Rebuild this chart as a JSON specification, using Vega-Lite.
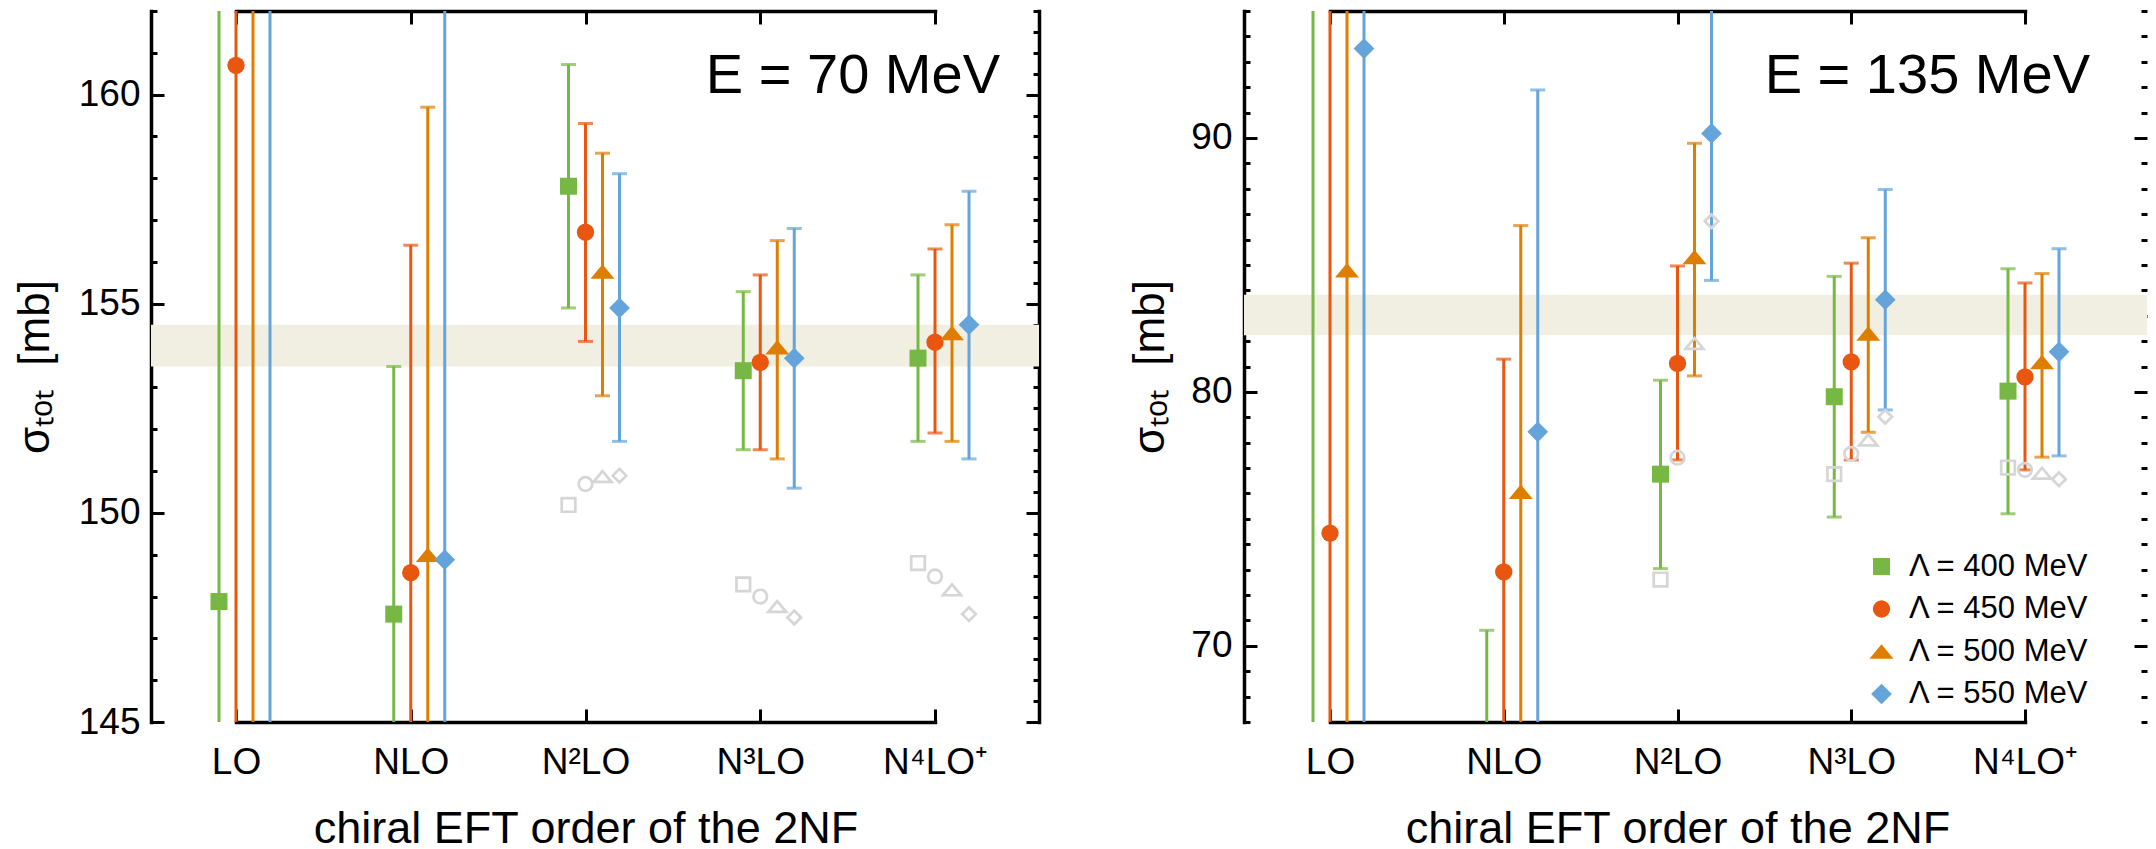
{
  "$schema": "https://vega.github.io/schema/vega-lite/v6.json",
  "background": "white",
  "padding": {"left": 13, "top": 9, "right": 0, "bottom": 0},
  "autosize": {"type": "pad"},
  "config": {
    "view": {"stroke": null},
    "font": "Liberation Sans",
    "axis": {
      "grid": false, "domainColor": "black", "domainWidth": 3.5, "domainCap": "square",
      "tickColor": "black", "tickWidth": 3, "labelColor": "black", "titleColor": "black",
      "labelFont": "Liberation Sans", "titleFont": "Liberation Sans", "labelFontSize": 37,
      "titleFontWeight": "normal", "labelOverlap": false, "labelBound": false, "labelFlush": false
    },
    "legend": {"symbolOpacity": 1},
    "title": {"anchor": "end", "frame": "group", "fontSize": 56, "fontWeight": "normal", "font": "Liberation Sans", "color": "black", "offset": -95, "baseline": "alphabetic"}
  },
  "datasets": {
    "e70": [
      {"order": "LO", "lambda": "Λ = 400 MeV", "cutoff": 400, "sigma": 147.88, "low": 120, "high": 190},
      {"order": "LO", "lambda": "Λ = 450 MeV", "cutoff": 450, "sigma": 160.70, "low": 120, "high": 190},
      {"order": "LO", "lambda": "Λ = 500 MeV", "cutoff": 500, "sigma": 170.0, "low": 120, "high": 190},
      {"order": "LO", "lambda": "Λ = 550 MeV", "cutoff": 550, "sigma": 172.0, "low": 120, "high": 190},
      {"order": "NLO", "lambda": "Λ = 400 MeV", "cutoff": 400, "sigma": 147.58, "low": 141.66, "high": 153.5},
      {"order": "NLO", "lambda": "Λ = 450 MeV", "cutoff": 450, "sigma": 148.57, "low": 140.74, "high": 156.4},
      {"order": "NLO", "lambda": "Λ = 500 MeV", "cutoff": 500, "sigma": 149.0, "low": 138.3, "high": 159.7},
      {"order": "NLO", "lambda": "Λ = 550 MeV", "cutoff": 550, "sigma": 148.88, "low": 134, "high": 164},
      {"order": "N²LO", "lambda": "Λ = 400 MeV", "cutoff": 400, "sigma": 157.81, "low": 154.90, "high": 160.72},
      {"order": "N²LO", "lambda": "Λ = 450 MeV", "cutoff": 450, "sigma": 156.71, "low": 154.10, "high": 159.31},
      {"order": "N²LO", "lambda": "Λ = 500 MeV", "cutoff": 500, "sigma": 155.77, "low": 152.8, "high": 158.6},
      {"order": "N²LO", "lambda": "Λ = 550 MeV", "cutoff": 550, "sigma": 154.90, "low": 151.71, "high": 158.11},
      {"order": "N³LO", "lambda": "Λ = 400 MeV", "cutoff": 400, "sigma": 153.40, "low": 151.51, "high": 155.29},
      {"order": "N³LO", "lambda": "Λ = 450 MeV", "cutoff": 450, "sigma": 153.60, "low": 151.51, "high": 155.69},
      {"order": "N³LO", "lambda": "Λ = 500 MeV", "cutoff": 500, "sigma": 153.96, "low": 151.29, "high": 156.51},
      {"order": "N³LO", "lambda": "Λ = 550 MeV", "cutoff": 550, "sigma": 153.70, "low": 150.59, "high": 156.80},
      {"order": "N⁴LO⁺", "lambda": "Λ = 400 MeV", "cutoff": 400, "sigma": 153.70, "low": 151.71, "high": 155.69},
      {"order": "N⁴LO⁺", "lambda": "Λ = 450 MeV", "cutoff": 450, "sigma": 154.08, "low": 151.91, "high": 156.31},
      {"order": "N⁴LO⁺", "lambda": "Λ = 500 MeV", "cutoff": 500, "sigma": 154.30, "low": 151.71, "high": 156.89},
      {"order": "N⁴LO⁺", "lambda": "Λ = 550 MeV", "cutoff": 550, "sigma": 154.50, "low": 151.29, "high": 157.69}
    ],
    "g70": [
      {"order": "N²LO", "lambda": "Λ = 400 MeV", "cutoff": 400, "sigma": 150.19},
      {"order": "N²LO", "lambda": "Λ = 450 MeV", "cutoff": 450, "sigma": 150.69},
      {"order": "N²LO", "lambda": "Λ = 500 MeV", "cutoff": 500, "sigma": 150.87},
      {"order": "N²LO", "lambda": "Λ = 550 MeV", "cutoff": 550, "sigma": 150.89},
      {"order": "N³LO", "lambda": "Λ = 400 MeV", "cutoff": 400, "sigma": 148.29},
      {"order": "N³LO", "lambda": "Λ = 450 MeV", "cutoff": 450, "sigma": 148.00},
      {"order": "N³LO", "lambda": "Λ = 500 MeV", "cutoff": 500, "sigma": 147.76},
      {"order": "N³LO", "lambda": "Λ = 550 MeV", "cutoff": 550, "sigma": 147.50},
      {"order": "N⁴LO⁺", "lambda": "Λ = 400 MeV", "cutoff": 400, "sigma": 148.80},
      {"order": "N⁴LO⁺", "lambda": "Λ = 450 MeV", "cutoff": 450, "sigma": 148.48},
      {"order": "N⁴LO⁺", "lambda": "Λ = 500 MeV", "cutoff": 500, "sigma": 148.16},
      {"order": "N⁴LO⁺", "lambda": "Λ = 550 MeV", "cutoff": 550, "sigma": 147.58}
    ],
    "band70": [{"low": 153.5, "high": 154.5}],
    "e135": [
      {"order": "LO", "lambda": "Λ = 400 MeV", "cutoff": 400, "sigma": 60.0, "low": 40, "high": 120},
      {"order": "LO", "lambda": "Λ = 450 MeV", "cutoff": 450, "sigma": 74.44, "low": 40, "high": 120},
      {"order": "LO", "lambda": "Λ = 500 MeV", "cutoff": 500, "sigma": 84.79, "low": 40, "high": 120},
      {"order": "LO", "lambda": "Λ = 550 MeV", "cutoff": 550, "sigma": 93.52, "low": 40, "high": 120},
      {"order": "NLO", "lambda": "Λ = 400 MeV", "cutoff": 400, "sigma": 64.0, "low": 57, "high": 70.61},
      {"order": "NLO", "lambda": "Λ = 450 MeV", "cutoff": 450, "sigma": 72.91, "low": 64.5, "high": 81.29},
      {"order": "NLO", "lambda": "Λ = 500 MeV", "cutoff": 500, "sigma": 76.07, "low": 65.6, "high": 86.55},
      {"order": "NLO", "lambda": "Λ = 550 MeV", "cutoff": 550, "sigma": 78.43, "low": 65, "high": 91.89},
      {"order": "N²LO", "lambda": "Λ = 400 MeV", "cutoff": 400, "sigma": 76.76, "low": 73.04, "high": 80.46},
      {"order": "N²LO", "lambda": "Λ = 450 MeV", "cutoff": 450, "sigma": 81.12, "low": 77.32, "high": 84.96},
      {"order": "N²LO", "lambda": "Λ = 500 MeV", "cutoff": 500, "sigma": 85.31, "low": 80.63, "high": 89.79},
      {"order": "N²LO", "lambda": "Λ = 550 MeV", "cutoff": 550, "sigma": 90.18, "low": 84.39, "high": 96.0},
      {"order": "N³LO", "lambda": "Λ = 400 MeV", "cutoff": 400, "sigma": 79.81, "low": 75.07, "high": 84.55},
      {"order": "N³LO", "lambda": "Λ = 450 MeV", "cutoff": 450, "sigma": 81.18, "low": 77.32, "high": 85.07},
      {"order": "N³LO", "lambda": "Λ = 500 MeV", "cutoff": 500, "sigma": 82.30, "low": 78.41, "high": 86.07},
      {"order": "N³LO", "lambda": "Λ = 550 MeV", "cutoff": 550, "sigma": 83.63, "low": 79.29, "high": 87.97},
      {"order": "N⁴LO⁺", "lambda": "Λ = 400 MeV", "cutoff": 400, "sigma": 80.03, "low": 75.20, "high": 84.85},
      {"order": "N⁴LO⁺", "lambda": "Λ = 450 MeV", "cutoff": 450, "sigma": 80.59, "low": 76.93, "high": 84.29},
      {"order": "N⁴LO⁺", "lambda": "Λ = 500 MeV", "cutoff": 500, "sigma": 81.18, "low": 77.43, "high": 84.66},
      {"order": "N⁴LO⁺", "lambda": "Λ = 550 MeV", "cutoff": 550, "sigma": 81.58, "low": 77.48, "high": 85.64}
    ],
    "g135": [
      {"order": "N²LO", "lambda": "Λ = 400 MeV", "cutoff": 400, "sigma": 72.61},
      {"order": "N²LO", "lambda": "Λ = 450 MeV", "cutoff": 450, "sigma": 77.41},
      {"order": "N²LO", "lambda": "Λ = 500 MeV", "cutoff": 500, "sigma": 81.91},
      {"order": "N²LO", "lambda": "Λ = 550 MeV", "cutoff": 550, "sigma": 86.72},
      {"order": "N³LO", "lambda": "Λ = 400 MeV", "cutoff": 400, "sigma": 76.76},
      {"order": "N³LO", "lambda": "Λ = 450 MeV", "cutoff": 450, "sigma": 77.56},
      {"order": "N³LO", "lambda": "Λ = 500 MeV", "cutoff": 500, "sigma": 78.11},
      {"order": "N³LO", "lambda": "Λ = 550 MeV", "cutoff": 550, "sigma": 79.02},
      {"order": "N⁴LO⁺", "lambda": "Λ = 400 MeV", "cutoff": 400, "sigma": 77.02},
      {"order": "N⁴LO⁺", "lambda": "Λ = 450 MeV", "cutoff": 450, "sigma": 76.93},
      {"order": "N⁴LO⁺", "lambda": "Λ = 500 MeV", "cutoff": 500, "sigma": 76.80},
      {"order": "N⁴LO⁺", "lambda": "Λ = 550 MeV", "cutoff": 550, "sigma": 76.56}
    ],
    "band135": [{"low": 82.23, "high": 83.83}]
  },
  "spacing": 205,
  "bounds": "flush",
  "resolve": {
    "scale": {"color": "independent", "shape": "independent", "size": "independent"},
    "legend": {"color": "independent", "shape": "independent", "size": "independent"}
  },
  "hconcat": [
    {
      "width": 888, "height": 711,
      "title": {"text": "E = 70 MeV", "dx": -39},
      "layer": [
        {
          "data": {"name": "band70"},
          "mark": {"type": "rect", "color": "#f1efe2", "clip": true},
          "encoding": {
            "y": {"field": "low", "type": "quantitative",
              "scale": {"domain": [145, 162], "nice": false, "zero": false},
              "axis": {"orient": "left", "format": "d",
                "values": [145,145.5,146,146.5,147,147.5,148,148.5,149,149.5,150,150.5,151,151.5,152,152.5,153,153.5,154,154.5,155,155.5,156,156.5,157,157.5,158,158.5,159,159.5,160,160.5,161,161.5,162],
                "labelExpr": "datum.value % 5 === 0 ? datum.label : ''",
                "labelFontSize": {"condition": {"test": "datum.value % 5 === 0", "value": 37}, "value": 0},
                "tickSize": {"condition": {"test": "datum.value % 5 === 0", "value": -13}, "value": -6},
                "labelPadding": 24, "title": "σₜₒₜ\u00a0\u00a0[mb]", "titleFontSize": 44, "titlePadding": 21}},
            "y2": {"field": "high"}
          }
        },
        {
          "data": {"name": "e70"},
          "mark": {"type": "rule", "strokeWidth": 3, "clip": true},
          "encoding": {
            "x": {"field": "order", "type": "nominal",
              "scale": {"type": "point", "domain": ["LO", "NLO", "N²LO", "N³LO", "N⁴LO⁺"], "range": [85, 784], "padding": 0},
              "axis": {"orient": "bottom", "title": "chiral EFT order of the 2NF", "tickSize": -13, "labelPadding": 35, "labelAngle": 0, "titleFontSize": 45, "titlePadding": 26}},
            "xOffset": {"field": "cutoff", "type": "quantitative", "scale": {"domain": [400, 550], "range": [-17, 34]}},
            "y": {"field": "low", "type": "quantitative",
              "axis": {"orient": "right",
                "values": [145,145.5,146,146.5,147,147.5,148,148.5,149,149.5,150,150.5,151,151.5,152,152.5,153,153.5,154,154.5,155,155.5,156,156.5,157,157.5,158,158.5,159,159.5,160,160.5,161,161.5,162],
                "labels": false, "title": null,
                "tickSize": {"condition": {"test": "datum.value % 5 === 0", "value": -13}, "value": -6}}},
            "y2": {"field": "high"},
            "color": {"field": "lambda", "type": "nominal",
              "scale": {"domain": ["Λ = 400 MeV", "Λ = 450 MeV", "Λ = 500 MeV", "Λ = 550 MeV"], "range": ["#76b843", "#e8560f", "#de7e00", "#64a4db"]},
              "legend": null}
          }
        },
        {
          "data": {"name": "e70"},
          "mark": {"type": "tick", "size": 15, "thickness": 3, "clip": true},
          "encoding": {
            "x": {"field": "order", "type": "nominal", "axis": {"orient": "top", "labels": false, "title": null, "tickSize": -13}},
            "xOffset": {"field": "cutoff", "type": "quantitative", "scale": {"domain": [400, 550], "range": [-17, 34]}},
            "y": {"field": "low", "type": "quantitative", "axis": null},
            "color": {"field": "lambda", "type": "nominal", "legend": null}
          }
        },
        {
          "data": {"name": "e70"},
          "mark": {"type": "tick", "size": 15, "thickness": 3, "clip": true},
          "encoding": {
            "x": {"field": "order", "type": "nominal", "axis": null},
            "xOffset": {"field": "cutoff", "type": "quantitative", "scale": {"domain": [400, 550], "range": [-17, 34]}},
            "y": {"field": "high", "type": "quantitative", "axis": null},
            "color": {"field": "lambda", "type": "nominal", "legend": null}
          }
        },
        {
          "data": {"name": "g70"},
          "transform": [{"filter": "datum.cutoff !== 500"}],
          "mark": {"type": "point", "filled": false, "stroke": "#d6d6d6", "strokeWidth": 2.7, "opacity": 1, "size": 185, "clip": true},
          "encoding": {
            "x": {"field": "order", "type": "nominal", "axis": null},
            "xOffset": {"field": "cutoff", "type": "quantitative", "scale": {"domain": [400, 550], "range": [-17, 34]}},
            "y": {"field": "sigma", "type": "quantitative", "axis": null},
            "shape": {"field": "lambda", "type": "nominal",
              "scale": {"domain": ["Λ = 400 MeV", "Λ = 450 MeV", "Λ = 500 MeV", "Λ = 550 MeV"], "range": ["square", "circle", "M0,-0.6L1,0.6L-1,0.6Z", "diamond"]},
              "legend": null}
          }
        },
        {
          "data": {"name": "g70"},
          "transform": [{"filter": "datum.cutoff === 500"}],
          "mark": {"type": "point", "filled": false, "stroke": "#d6d6d6", "strokeWidth": 2.7, "opacity": 1, "size": 324, "clip": true},
          "encoding": {
            "x": {"field": "order", "type": "nominal", "axis": null},
            "xOffset": {"field": "cutoff", "type": "quantitative", "scale": {"domain": [400, 550], "range": [-17, 34]}},
            "y": {"field": "sigma", "type": "quantitative", "axis": null},
            "shape": {"field": "lambda", "type": "nominal", "legend": null}
          }
        },
        {
          "data": {"name": "e70"},
          "mark": {"type": "point", "filled": true, "opacity": 1, "strokeWidth": 0, "clip": true},
          "encoding": {
            "x": {"field": "order", "type": "nominal", "axis": null},
            "xOffset": {"field": "cutoff", "type": "quantitative", "scale": {"domain": [400, 550], "range": [-17, 34]}},
            "y": {"field": "sigma", "type": "quantitative", "axis": null},
            "color": {"field": "lambda", "type": "nominal", "legend": null},
            "shape": {"field": "lambda", "type": "nominal", "legend": null},
            "size": {"field": "lambda", "type": "nominal",
              "scale": {"type": "ordinal", "domain": ["Λ = 400 MeV", "Λ = 450 MeV", "Λ = 500 MeV", "Λ = 550 MeV"], "range": [289, 300, 576, 430]},
              "legend": null}
          }
        }
      ]
    },
    {
      "width": 903, "height": 711,
      "title": {"text": "E = 135 MeV", "dx": -57},
      "layer": [
        {
          "data": {"name": "band135"},
          "mark": {"type": "rect", "color": "#f1efe2", "clip": true},
          "encoding": {
            "y": {"field": "low", "type": "quantitative",
              "scale": {"domain": [67, 95], "nice": false, "zero": false},
              "axis": {"orient": "left", "format": "d",
                "values": [67,68,69,70,71,72,73,74,75,76,77,78,79,80,81,82,83,84,85,86,87,88,89,90,91,92,93,94,95],
                "labelExpr": "datum.value % 10 === 0 ? datum.label : ''",
                "labelFontSize": {"condition": {"test": "datum.value % 10 === 0", "value": 37}, "value": 0},
                "tickSize": {"condition": {"test": "datum.value % 10 === 0", "value": -13}, "value": -6},
                "labelPadding": 25, "title": "σₜₒₜ\u00a0\u00a0[mb]", "titleFontSize": 44, "titlePadding": 18}},
            "y2": {"field": "high"}
          }
        },
        {
          "data": {"name": "e135"},
          "mark": {"type": "rule", "strokeWidth": 3, "clip": true},
          "encoding": {
            "x": {"field": "order", "type": "nominal",
              "scale": {"type": "point", "domain": ["LO", "NLO", "N²LO", "N³LO", "N⁴LO⁺"], "range": [86, 781], "padding": 0},
              "axis": {"orient": "bottom", "title": "chiral EFT order of the 2NF", "tickSize": -13, "labelPadding": 35, "labelAngle": 0, "titleFontSize": 45, "titlePadding": 26}},
            "xOffset": {"field": "cutoff", "type": "quantitative", "scale": {"domain": [400, 550], "range": [-17, 34]}},
            "y": {"field": "low", "type": "quantitative",
              "axis": {"orient": "right", "domain": false,
                "values": [67,68,69,70,71,72,73,74,75,76,77,78,79,80,81,82,83,84,85,86,87,88,89,90,91,92,93,94,95],
                "labels": false, "title": null,
                "tickSize": {"condition": {"test": "datum.value % 10 === 0", "value": -13}, "value": -6}}},
            "y2": {"field": "high"},
            "color": {"field": "lambda", "type": "nominal",
              "scale": {"domain": ["Λ = 400 MeV", "Λ = 450 MeV", "Λ = 500 MeV", "Λ = 550 MeV"], "range": ["#76b843", "#e8560f", "#de7e00", "#64a4db"]}}
          }
        },
        {
          "data": {"name": "e135"},
          "mark": {"type": "tick", "size": 15, "thickness": 3, "clip": true},
          "encoding": {
            "x": {"field": "order", "type": "nominal", "axis": {"orient": "top", "labels": false, "title": null, "tickSize": -13}},
            "xOffset": {"field": "cutoff", "type": "quantitative", "scale": {"domain": [400, 550], "range": [-17, 34]}},
            "y": {"field": "low", "type": "quantitative", "axis": null},
            "color": {"field": "lambda", "type": "nominal"}
          }
        },
        {
          "data": {"name": "e135"},
          "mark": {"type": "tick", "size": 15, "thickness": 3, "clip": true},
          "encoding": {
            "x": {"field": "order", "type": "nominal", "axis": null},
            "xOffset": {"field": "cutoff", "type": "quantitative", "scale": {"domain": [400, 550], "range": [-17, 34]}},
            "y": {"field": "high", "type": "quantitative", "axis": null},
            "color": {"field": "lambda", "type": "nominal"}
          }
        },
        {
          "data": {"name": "g135"},
          "transform": [{"filter": "datum.cutoff !== 500"}],
          "mark": {"type": "point", "filled": false, "stroke": "#d6d6d6", "strokeWidth": 2.7, "opacity": 1, "size": 185, "clip": true},
          "encoding": {
            "x": {"field": "order", "type": "nominal", "axis": null},
            "xOffset": {"field": "cutoff", "type": "quantitative", "scale": {"domain": [400, 550], "range": [-17, 34]}},
            "y": {"field": "sigma", "type": "quantitative", "axis": null},
            "shape": {"field": "lambda", "type": "nominal",
              "scale": {"domain": ["Λ = 400 MeV", "Λ = 450 MeV", "Λ = 500 MeV", "Λ = 550 MeV"], "range": ["square", "circle", "M0,-0.6L1,0.6L-1,0.6Z", "diamond"]}}
          }
        },
        {
          "data": {"name": "g135"},
          "transform": [{"filter": "datum.cutoff === 500"}],
          "mark": {"type": "point", "filled": false, "stroke": "#d6d6d6", "strokeWidth": 2.7, "opacity": 1, "size": 324, "clip": true},
          "encoding": {
            "x": {"field": "order", "type": "nominal", "axis": null},
            "xOffset": {"field": "cutoff", "type": "quantitative", "scale": {"domain": [400, 550], "range": [-17, 34]}},
            "y": {"field": "sigma", "type": "quantitative", "axis": null},
            "shape": {"field": "lambda", "type": "nominal"}
          }
        },
        {
          "data": {"name": "e135"},
          "mark": {"type": "point", "filled": true, "opacity": 1, "strokeWidth": 0, "clip": true},
          "encoding": {
            "x": {"field": "order", "type": "nominal", "axis": null},
            "xOffset": {"field": "cutoff", "type": "quantitative", "scale": {"domain": [400, 550], "range": [-17, 34]}},
            "y": {"field": "sigma", "type": "quantitative", "axis": null},
            "color": {"field": "lambda", "type": "nominal",
              "legend": {"orient": "none", "legendX": 622, "legendY": 540, "title": null, "labelFontSize": 31, "labelFont": "Liberation Sans", "labelColor": "black", "labelOffset": 12, "labelLimit": 600, "rowPadding": 10.5, "symbolStrokeWidth": 0, "symbolOpacity": 1, "padding": 0,
                "encode": {"symbols": {"update": {"opacity": {"value": 1}, "fillOpacity": {"value": 1}}}}}},
            "shape": {"field": "lambda", "type": "nominal",
              "legend": {"orient": "none", "legendX": 622, "legendY": 540, "title": null, "labelFontSize": 31, "labelFont": "Liberation Sans", "labelColor": "black", "labelOffset": 12, "labelLimit": 600, "rowPadding": 10.5, "symbolStrokeWidth": 0, "symbolOpacity": 1, "padding": 0,
                "encode": {"symbols": {"update": {"opacity": {"value": 1}, "fillOpacity": {"value": 1}}}}}},
            "size": {"field": "lambda", "type": "nominal",
              "scale": {"type": "ordinal", "domain": ["Λ = 400 MeV", "Λ = 450 MeV", "Λ = 500 MeV", "Λ = 550 MeV"], "range": [289, 300, 576, 430]},
              "legend": {"orient": "none", "legendX": 622, "legendY": 540, "title": null, "labelFontSize": 31, "labelFont": "Liberation Sans", "labelColor": "black", "labelOffset": 12, "labelLimit": 600, "rowPadding": 10.5, "symbolStrokeWidth": 0, "symbolOpacity": 1, "padding": 0,
                "encode": {"symbols": {"update": {"opacity": {"value": 1}, "fillOpacity": {"value": 1}}}}}}
          }
        }
      ]
    }
  ]
}
